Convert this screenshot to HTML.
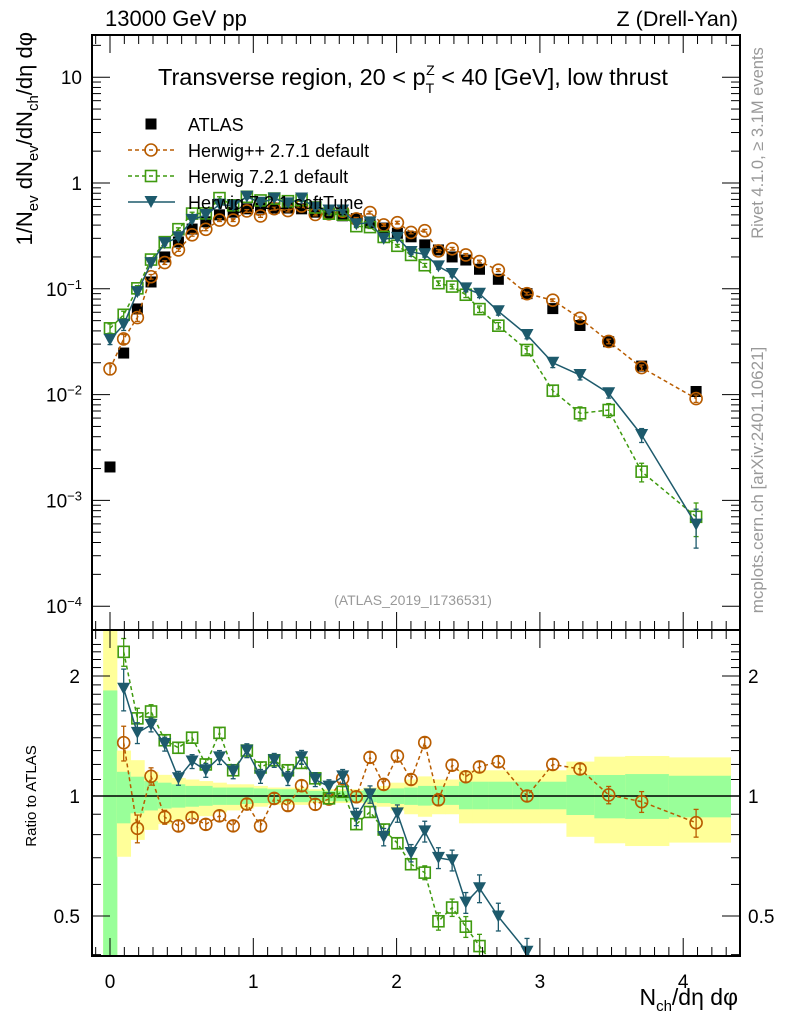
<!DOCTYPE html>
<html><head><meta charset="utf-8"><style>
html,body{margin:0;padding:0;background:#fff;width:786px;height:1024px;overflow:hidden;}
svg{display:block;font-family:"Liberation Sans",sans-serif;}
</style></head><body>
<svg id="c" width="786" height="1024" viewBox="0 0 786 1024"></svg>
<script>
const xs=[];for(let k=0;k<28;k++)xs.push(+(k*0.0955).toFixed(4));
xs.push(2.71,2.91,3.09,3.28,3.48,3.71,4.09);
const lastEdge=4.33;
const atlas=[0.00207,0.0247,0.0645,0.116,0.20,0.277,0.367,0.43,0.50,0.53,0.57,0.58,0.58,0.58,0.57,0.53,0.52,0.49,0.46,0.42,0.375,0.335,0.31,0.26,0.233,0.20,0.187,0.153,0.123,0.09,0.065,0.045,0.0316,0.0186,0.0107];
const herwigpp=[0.0175,0.0336,0.0535,0.130,0.177,0.233,0.324,0.365,0.446,0.446,0.544,0.488,0.572,0.549,0.605,0.505,0.511,0.542,0.458,0.525,0.401,0.422,0.341,0.354,0.228,0.239,0.209,0.181,0.150,0.090,0.078,0.0526,0.0318,0.0180,0.00917];
const herwig7=[0.0423,0.0568,0.101,0.189,0.276,0.366,0.514,0.516,0.72,0.615,0.741,0.684,0.713,0.673,0.690,0.587,0.513,0.502,0.391,0.383,0.309,0.255,0.209,0.167,0.113,0.105,0.0879,0.0643,0.0448,0.0264,0.0109,0.00665,0.00715,0.00187,0.0007];
const softTune=[0.033,0.0459,0.0929,0.175,0.27,0.307,0.448,0.499,0.625,0.61,0.741,0.65,0.713,0.642,0.713,0.583,0.549,0.549,0.408,0.424,0.296,0.303,0.223,0.212,0.163,0.138,0.101,0.0898,0.0613,0.0366,0.020,0.0153,0.0103,0.00415,0.00059];
const errPP=[0.12,0.1,0.08,0.05,0.04,0.03,0.03,0.03,0.03,0.03,0.03,0.03,0.03,0.03,0.03,0.03,0.03,0.03,0.03,0.03,0.03,0.03,0.03,0.03,0.03,0.03,0.03,0.03,0.03,0.03,0.03,0.03,0.05,0.06,0.08];
const err7=[0.1,0.08,0.06,0.04,0.03,0.03,0.03,0.03,0.03,0.03,0.03,0.03,0.03,0.03,0.03,0.03,0.03,0.03,0.03,0.03,0.03,0.03,0.03,0.04,0.05,0.05,0.06,0.07,0.07,0.08,0.12,0.15,0.15,0.2,0.35];
const errST=[0.1,0.12,0.06,0.04,0.04,0.04,0.04,0.04,0.04,0.04,0.04,0.04,0.04,0.04,0.04,0.04,0.04,0.04,0.05,0.05,0.05,0.05,0.05,0.06,0.06,0.06,0.06,0.08,0.08,0.08,0.1,0.1,0.1,0.15,0.4];
const yelU=[2.6,1.30,1.23,1.15,1.13,1.11,1.10,1.09,1.08,1.07,1.07,1.06,1.05,1.05,1.05,1.04,1.04,1.04,1.04,1.05,1.06,1.08,1.10,1.12,1.10,1.10,1.16,1.16,1.16,1.16,1.16,1.22,1.255,1.26,1.25];
const yelL=[0.3,0.704,0.776,0.822,0.85,0.87,0.88,0.89,0.91,0.92,0.93,0.94,0.95,0.95,0.95,0.96,0.96,0.96,0.96,0.95,0.94,0.92,0.90,0.887,0.90,0.90,0.854,0.854,0.854,0.854,0.854,0.79,0.761,0.749,0.764];
const grnU=[1.84,1.15,1.118,1.09,1.08,1.07,1.06,1.06,1.05,1.05,1.05,1.045,1.04,1.04,1.04,1.03,1.03,1.03,1.03,1.035,1.04,1.045,1.05,1.06,1.06,1.06,1.086,1.086,1.086,1.086,1.086,1.129,1.129,1.135,1.124];
const grnL=[0.3,0.854,0.905,0.92,0.93,0.935,0.94,0.945,0.95,0.95,0.955,0.96,0.96,0.965,0.965,0.97,0.97,0.97,0.97,0.965,0.96,0.955,0.95,0.946,0.95,0.95,0.926,0.926,0.926,0.926,0.926,0.896,0.879,0.876,0.884];
const xTicks=[0,1,2,3,4];
const mainTicks=[[10,"10"],[1,"1"],[0.1,"10<tspan dy='-7' font-size='13'>−1</tspan>"],[0.01,"10<tspan dy='-7' font-size='13'>−2</tspan>"],[0.001,"10<tspan dy='-7' font-size='13'>−3</tspan>"],[0.0001,"10<tspan dy='-7' font-size='13'>−4</tspan>"]];
const ratioTicks=[[2,"2"],[1,"1"],[0.5,"0.5"]];

const L=92,R=740,T=35,MB=630,RB=956;
const X=v=>110+v*143.3;
const Y=v=>183-105.8*Math.log10(v);
const RY=v=>796-398.6*Math.log10(v);
const svg=document.getElementById('c');
const NS="http://www.w3.org/2000/svg";
function el(tag,attrs,parent){const e=document.createElementNS(NS,tag);for(const k in attrs)e.setAttribute(k,attrs[k]);(parent||svg).appendChild(e);return e;}
const C={pp:"#b85c00",h7:"#3f9a0f",st:"#1d5a6c"};
function clipRect(id,y0,y1){const d=el('defs',{});const cp=el('clipPath',{id:id},d);el('rect',{x:L,y:y0,width:R-L,height:y1-y0},cp);}
clipRect('cm',T,MB);clipRect('cr',MB,RB);
const edges=[];for(let i=0;i<xs.length;i++){edges.push(i==0?xs[0]-0.0477:(xs[i-1]+xs[i])/2);}edges.push(lastEdge);

const gBand=el('g',{'clip-path':'url(#cr)'});


for(let i=0;i<xs.length;i++){
 const x0=X(edges[i]),x1=X(edges[i+1]);
 const r1=el('rect',{x:x0,y:RY(yelU[i]),width:x1-x0+0.5,height:RY(yelL[i])-RY(yelU[i]),fill:'#ffff99'},gBand);
 
 
 const r2=el('rect',{x:x0,y:RY(grnU[i]),width:x1-x0+0.5,height:RY(grnL[i])-RY(grnU[i]),fill:'#99ff99'},gBand);
 
 
}
el('line',{x1:L,x2:R,y1:RY(1),y2:RY(1),stroke:'#000','stroke-width':1.5});

function marker(g,type,x,y,col){
 if(type=='c')return el('circle',{cx:x,cy:y,r:6,fill:'none',stroke:col,'stroke-width':1.6},g);
 if(type=='s')return el('rect',{x:x-5.5,y:y-5.5,width:11,height:11,fill:'none',stroke:col,'stroke-width':1.6},g);
 if(type=='t')return el('path',{d:`M${x-6.5},${y-6} L${x+6.5},${y-6} L${x},${y+6} Z`,fill:col},g);
 return el('rect',{x:x-5.5,y:y-5.5,width:11,height:11,fill:col},g);
}
function series(vals,err,col,type,dash,name,ratio){
 const g=el('g',{'clip-path':ratio?'url(#cr)':'url(#cm)'});
 
 
 const idx=[];for(let i=(ratio?1:0);i<xs.length;i++)idx.push(i);
 const f=ratio?RY:Y;
 const v=idx.map(i=>ratio?vals[i]/atlas[i]:vals[i]);
 el('polyline',{points:idx.map((i,j)=>X(xs[i])+','+f(v[j])).join(' '),fill:'none',stroke:col,'stroke-width':1.5,'stroke-dasharray':dash},g);
 idx.forEach((i,j)=>{const x=X(xs[i]),a=v[j];const y1=f(a*(1+err[i])),y2=f(Math.max(a*(1-err[i]),1e-6));
  el('line',{x1:x,x2:x,y1:y1,y2:y2,stroke:col,'stroke-width':1.3},g);
  el('line',{x1:x-2.5,x2:x+2.5,y1:y1,y2:y1,stroke:col,'stroke-width':1.3},g);
  el('line',{x1:x-2.5,x2:x+2.5,y1:y2,y2:y2,stroke:col,'stroke-width':1.3},g);
  const m=marker(g,type,x,f(a),col);
  
  
 });
}
const ga=el('g',{'clip-path':'url(#cm)'});


atlas.forEach((a,i)=>{const m=marker(ga,'a',X(xs[i]),Y(a),'#000');
 
 });
series(herwigpp,errPP,C.pp,'c','4,3','herwigpp-series',false);
series(herwig7,err7,C.h7,'s','4,3','herwig7-series',false);
series(softTune,errST,C.st,'t','','softtune-series',false);
series(herwigpp,errPP,C.pp,'c','4,3','herwigpp-ratio',true);
series(herwig7,err7,C.h7,'s','4,3','herwig7-ratio',true);
series(softTune,errST,C.st,'t','','softtune-ratio',true);

el('rect',{x:L,y:T,width:R-L,height:MB-T,fill:'none',stroke:'#000','stroke-width':2});
el('rect',{x:L,y:MB,width:R-L,height:RB-MB,fill:'none',stroke:'#000','stroke-width':2});
for(let t=-0.1;t<=4.4;t+=0.1){const x=X(t);if(x<L||x>R)continue;const maj=Math.abs(t-Math.round(t))<0.01;const len=maj?18:9;
 [[T,1],[MB,-1],[MB,1],[RB,-1]].forEach(([y,d])=>el('line',{x1:x,x2:x,y1:y,y2:y+d*len,stroke:'#000','stroke-width':1}));}
xTicks.forEach(t=>{const tx=el('text',{x:X(t),y:988,'font-size':19,'text-anchor':'middle'});tx.textContent=t;
 
 });
for(let e=-4;e<=1;e++){for(let m=1;m<10;m++){const v=m*Math.pow(10,e);const y=Y(v);if(y<T||y>MB)continue;const len=m==1?18:9;
 el('line',{x1:L,x2:L+len,y1:y,y2:y,stroke:'#000'});el('line',{x1:R,x2:R-len,y1:y,y2:y,stroke:'#000'});}}
mainTicks.forEach(([v,s])=>{const tx=el('text',{x:82,y:Y(v)+7,'font-size':19,'text-anchor':'end'});tx.innerHTML=s;
 
 });
for(let v=0.4;v<=2.5;v+=0.1){const y=RY(v);if(y<MB||y>RB)continue;const maj=[0.5,1,2].some(q=>Math.abs(q-v)<0.01);const len=maj?18:9;
 el('line',{x1:L,x2:L+len,y1:y,y2:y,stroke:'#000'});el('line',{x1:R,x2:R-len,y1:y,y2:y,stroke:'#000'});}
ratioTicks.forEach(([v,s])=>{const a=el('text',{x:80,y:RY(v)+7,'font-size':19,'text-anchor':'end'});a.textContent=s;
 
 
 const b=el('text',{x:748,y:RY(v)+7,'font-size':19});b.textContent=s;
 
 });

const add=(html,attrs,name)=>{const t=el('text',attrs);t.innerHTML=html;return t;};
add('13000 GeV pp',{x:105,y:26,'font-size':22},'energy-label');
add('Z (Drell-Yan)',{x:738,y:26,'font-size':21.5,'text-anchor':'end'},'process-label');
add('Transverse region, 20 &lt; p<tspan dy="8" font-size="14">T</tspan><tspan dx="-8" dy="-18" font-size="14">Z</tspan><tspan dy="10"> &lt; 40 [GeV], low thrust</tspan>',{x:158,y:85,'font-size':23.5},'plot-title');
add('(ATLAS_2019_I1736531)',{x:413,y:605,'font-size':14,fill:'#999','text-anchor':'middle'},'analysis-id');
add('Rivet 4.1.0, ≥ 3.1M events',{x:0,y:0,'font-size':16.5,fill:'#999','text-anchor':'middle',transform:'translate(763,143) rotate(-90)'},'rivet-label');
add('mcplots.cern.ch [arXiv:2401.10621]',{x:0,y:0,'font-size':17,fill:'#999','text-anchor':'middle',transform:'translate(763,480) rotate(-90)'},'mcplots-label');
add('1/N<tspan dy="6" font-size="15">ev</tspan><tspan dy="-6"> dN</tspan><tspan dy="6" font-size="15">ev</tspan><tspan dy="-6">/dN</tspan><tspan dy="6" font-size="15">ch</tspan><tspan dy="-6">/dη dφ</tspan>',{x:0,y:0,'font-size':22,'text-anchor':'end',transform:'translate(32,32) rotate(-90)'},'y-axis-title');
add('Ratio to ATLAS',{x:0,y:0,'font-size':15,'text-anchor':'middle',transform:'translate(36,796) rotate(-90)'},'ratio-axis-title');
add('N<tspan dy="6" font-size="15">ch</tspan><tspan dy="-6">/dη dφ</tspan>',{x:738,y:1005,'font-size':23,'text-anchor':'end'},'x-axis-title');
const lg=el('g',{});
const items=[['ATLAS','a','#000',null],['Herwig++ 2.7.1 default','c',C.pp,'4,3'],['Herwig 7.2.1 default','s',C.h7,'4,3'],['Herwig 7.2.1 softTune','t',C.st,'']];
items.forEach((it,i)=>{const y=124+i*26;const g=el('g',{},lg);
 if(it[3]!==null)el('line',{x1:128,x2:175,y1:y,y2:y,stroke:it[2],'stroke-width':1.5,'stroke-dasharray':it[3]},g);
 marker(g,it[1],151,y,it[2]);
 const t=el('text',{x:188,y:y+7,'font-size':18},g);t.textContent=it[0];});
</script>
</body></html>
